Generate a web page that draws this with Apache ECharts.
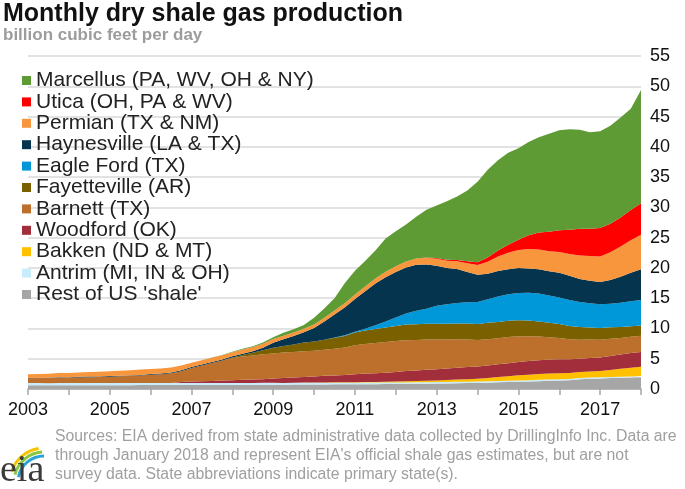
<!DOCTYPE html>
<html>
<head>
<meta charset="utf-8">
<script src="https://cdn.jsdelivr.net/npm/echarts@6/dist/echarts.min.js"></script>
<style>
html,body{margin:0;padding:0;background:#fff;}
#c{width:685px;height:489px;}
</style>
</head>
<body>
<div id="c"></div>
<script>
// Quarterly points, Jan 2003 .. Jan 2018 (billion cubic feet per day)
const firstYear = 2003, lastYear = 2018;
const months = ['01', '04', '07', '10'];
const periods = [];
for (let y = firstYear; y < lastYear; y++) for (const m of months) periods.push(y + '-' + m);
periods.push(lastYear + '-01');

const xTickLabels = ['2003','2005','2007','2009','2011','2013','2015','2017'];

const rest = [0.60,0.60,0.60,0.62, 0.62,0.62,0.63,0.63, 0.63,0.64,0.64,0.65, 0.65,0.65,0.66,0.66, 0.66,0.67,0.67,0.68, 0.68,0.70,0.70,0.72, 0.72,0.72,0.74,0.75, 0.75,0.76,0.77,0.78, 0.78,0.80,0.80,0.82, 0.82,0.84,0.86,0.88, 0.90,0.92,0.95,0.98, 1.00,1.05,1.10,1.15, 1.20,1.25,1.30,1.35, 1.40,1.45,1.60,1.70, 1.75,1.80,1.85,1.90, 1.95];
const antrim = [0.38,0.38,0.37,0.37, 0.36,0.36,0.36,0.35, 0.35,0.35,0.34,0.34, 0.34,0.33,0.33,0.33, 0.32,0.32,0.32,0.31, 0.31,0.31,0.30,0.30, 0.30,0.29,0.29,0.29, 0.28,0.28,0.28,0.27, 0.27,0.27,0.26,0.26, 0.26,0.25,0.25,0.25, 0.24,0.24,0.24,0.23, 0.23,0.23,0.22,0.22, 0.22,0.21,0.21,0.21, 0.20,0.20,0.20,0.19, 0.19,0.19,0.18,0.18, 0.18];
const bakken = [0,0,0,0, 0,0,0,0, 0,0,0,0, 0,0,0,0, 0,0,0,0, 0,0,0,0, 0,0,0.02,0.03, 0.03,0.04,0.05,0.06, 0.07,0.08,0.10,0.12, 0.14,0.17,0.20,0.24, 0.28,0.32,0.37,0.42, 0.47,0.55,0.65,0.75, 0.85,0.90,0.95,1.00, 1.02,1.00,1.00,1.02, 1.05,1.15,1.30,1.45, 1.55];
const woodford = [0,0,0,0, 0,0,0,0, 0,0,0,0, 0,0,0,0.15, 0.25,0.30,0.35,0.40, 0.45,0.50,0.55,0.60, 0.70,0.80,0.85,0.90, 1.00,1.10,1.15,1.20, 1.30,1.40,1.45,1.50, 1.60,1.70,1.75,1.80, 1.85,1.90,1.95,2.00, 2.00,2.05,2.10,2.15, 2.20,2.25,2.30,2.30, 2.30,2.25,2.20,2.20, 2.20,2.30,2.35,2.40, 2.45];
const barnett = [0.80,0.82,0.85,0.88, 0.90,0.93,0.97,1.00, 1.05,1.10,1.15,1.22, 1.35,1.45,1.60,1.80, 2.25,2.60,2.95,3.30, 3.65,3.85,4.00,4.10, 4.15,4.20,4.20,4.25, 4.25,4.30,4.40,4.55, 4.80,4.90,5.00,5.05, 5.10,5.10,5.05,5.00, 4.90,4.80,4.70,4.55, 4.40,4.35,4.30,4.30, 4.25,4.10,3.90,3.70, 3.50,3.30,3.15,3.05, 2.95,2.85,2.75,2.70, 2.65];
const fayetteville = [0,0,0,0, 0,0,0,0, 0,0,0,0, 0,0,0,0, 0,0,0,0, 0.10,0.25,0.45,0.70, 0.95,1.10,1.25,1.45, 1.55,1.65,1.80,1.90, 2.10,2.20,2.30,2.40, 2.50,2.60,2.60,2.60, 2.60,2.60,2.60,2.65, 2.65,2.70,2.70,2.70, 2.65,2.60,2.50,2.40, 2.30,2.20,2.10,2.00, 1.95,1.90,1.80,1.75, 1.70];
const eagleFord = [0,0,0,0, 0,0,0,0, 0,0,0,0, 0,0,0,0, 0,0,0,0, 0,0,0,0, 0,0,0,0, 0,0,0.05,0.10, 0.15,0.30,0.60,1.00, 1.40,1.80,2.20,2.50, 3.00,3.20,3.40,3.50, 3.60,3.90,4.20,4.40, 4.50,4.60,4.60,4.50, 4.40,4.30,4.10,4.00, 3.90,3.90,4.00,4.10, 4.20];
const haynesville = [0.05,0.05,0.05,0.08, 0.08,0.10,0.10,0.10, 0.10,0.10,0.12,0.12, 0.12,0.12,0.15,0.15, 0.15,0.15,0.18,0.18, 0.20,0.22,0.25,0.40, 0.80,1.10,1.40,1.70, 2.20,3.00,3.80,4.60, 5.40,6.20,6.90,7.30, 7.50,7.60,7.60,7.30, 6.60,6.00,5.60,5.00, 4.50,4.20,4.20,4.10, 4.10,4.00,4.00,4.00, 4.10,4.00,3.80,3.70, 3.70,3.90,4.30,4.70, 5.10];
const permian = [0.60,0.62,0.65,0.68, 0.70,0.72,0.75,0.78, 0.80,0.82,0.85,0.88, 0.85,0.82,0.80,0.78, 0.72,0.70,0.70,0.70, 0.70,0.70,0.68,0.65, 0.62,0.60,0.58,0.58, 0.60,0.62,0.65,0.70, 0.75,0.80,0.85,0.90, 0.95,1.00,1.05,1.10, 1.15,1.20,1.30,1.45, 1.65,2.00,2.40,2.75, 3.00,3.20,3.30,3.30, 3.40,3.60,3.90,4.10, 4.20,4.60,5.00,5.40, 5.70];
const utica = [0,0,0,0, 0,0,0,0, 0,0,0,0, 0,0,0,0, 0,0,0,0, 0,0,0,0, 0,0,0,0, 0,0,0,0, 0,0,0,0, 0,0,0,0.05, 0.10,0.15,0.20,0.30, 0.45,0.70,1.00,1.30, 1.70,2.30,2.80,3.20, 3.60,4.00,4.40,4.50, 4.70,4.70,4.80,5.00, 5.20];
const marcellus = [0,0,0,0, 0,0,0,0, 0,0,0,0, 0,0,0,0, 0,0,0.02,0.03, 0.05,0.10,0.15,0.20, 0.30,0.50,0.55,0.60, 1.10,1.55,2.05,3.30, 3.90,4.20,4.60,5.50, 5.80,6.10,6.90,7.90, 8.70,9.70,10.50,11.70, 13.30,14.50,14.90,15.20, 15.10,15.40,15.70,16.20, 16.50,16.60,16.35,15.95, 16.00,16.20,16.50,16.70, 18.70];

// bottom-to-top stacking order
const layers = [
  {name: "Rest of US 'shale'", data: rest, color: '#a6a6a6'},
  {name: 'Antrim (MI, IN & OH)', data: antrim, color: '#c8ecf9'},
  {name: 'Bakken (ND & MT)', data: bakken, color: '#ffc000'},
  {name: 'Woodford (OK)', data: woodford, color: '#a22e3b'},
  {name: 'Barnett (TX)', data: barnett, color: '#bd702b'},
  {name: 'Fayetteville (AR)', data: fayetteville, color: '#7b6000'},
  {name: 'Eagle Ford (TX)', data: eagleFord, color: '#0098d8'},
  {name: 'Haynesville (LA & TX)', data: haynesville, color: '#05344f'},
  {name: 'Permian (TX & NM)', data: permian, color: '#f7963c'},
  {name: 'Utica (OH, PA & WV)', data: utica, color: '#ff0000'},
  {name: 'Marcellus (PA, WV, OH & NY)', data: marcellus, color: '#5e9b35'}
];

const footerLines = [
  'Sources: EIA derived from state administrative data collected by DrillingInfo Inc. Data are',
  "through January 2018 and represent EIA's official shale gas estimates, but are not",
  'survey data. State abbreviations indicate primary state(s).'
];

const FONT = '"Liberation Sans", Arial, sans-serif';
const chart = echarts.init(document.getElementById('c'), null, {renderer: 'canvas'});

const footerGraphics = footerLines.map((t, i) => ({
  type: 'text', left: 55, top: 429 + i * 19,
  style: {text: t, fill: '#9f9f9f', font: '15.8px ' + FONT}
}));

chart.setOption({
  animation: false,
  backgroundColor: '#ffffff',
  title: [
    {text: 'Monthly dry shale gas production', left: 3, top: 2, padding: 0,
     textStyle: {fontFamily: FONT, fontSize: 25, fontWeight: 'bold', color: '#111'}},
    {text: 'billion cubic feet per day', left: 3, top: 27, padding: 0,
     textStyle: {fontFamily: FONT, fontSize: 17, fontWeight: 'bold', color: '#9c9c9c'}}
  ],
  legend: {
    orient: 'vertical', left: 22, top: 70, padding: 0,
    itemWidth: 9, itemHeight: 9, itemGap: 0.4, icon: 'rect',
    data: layers.slice().reverse().map(l => l.name),
    textStyle: {fontFamily: FONT, fontSize: 21, lineHeight: 21, color: '#222'}
  },
  grid: {left: 28, right: 44, top: 56, bottom: 100},
  xAxis: {
    type: 'category', data: periods, boundaryGap: false,
    axisLine: {show: true, lineStyle: {color: '#a6a6a6', width: 1.5}},
    axisTick: {show: true, interval: 3, length: 6, lineStyle: {color: '#a6a6a6', width: 1.5}},
    splitLine: {show: false},
    axisLabel: {
      interval: 7, margin: 12, color: '#111', fontFamily: FONT, fontSize: 18,
      formatter: v => { const y = String(v).slice(0, 4); return xTickLabels.indexOf(y) >= 0 ? y : ''; }
    }
  },
  yAxis: {
    type: 'value', position: 'right', min: 0, max: 55, interval: 5,
    axisLine: {show: false}, axisTick: {show: false},
    splitLine: {lineStyle: {color: '#d9d9d9', width: 1.5}},
    axisLabel: {margin: 9, color: '#111', fontFamily: FONT, fontSize: 18, align: 'left'}
  },
  series: layers.map(l => ({
    name: l.name, type: 'line', stack: 'total',
    data: l.data,
    showSymbol: false, symbol: 'none', smooth: false,
    lineStyle: {width: 0}, itemStyle: {color: l.color},
    areaStyle: {color: l.color, opacity: 1}
  })),
  graphic: [
    ...footerGraphics,
    {type: 'arc', shape: {cx: 44, cy: 482, r: 34, startAngle: Math.PI * 1.10, endAngle: Math.PI * 1.45}, style: {stroke: '#f5c400', lineWidth: 3, fill: null}},
    {type: 'arc', shape: {cx: 44, cy: 482, r: 30, startAngle: Math.PI * 1.08, endAngle: Math.PI * 1.48}, style: {stroke: '#8cc63f', lineWidth: 3, fill: null}},
    {type: 'arc', shape: {cx: 44, cy: 482, r: 26, startAngle: Math.PI * 1.06, endAngle: Math.PI * 1.50}, style: {stroke: '#2aa4d8', lineWidth: 3, fill: null}},
    {type: 'text', left: 0, top: 452, style: {text: 'eia', fill: '#3a3a3a', font: '38px "Liberation Serif", "DejaVu Serif", serif'}}
  ]
});
</script>
</body>
</html>
